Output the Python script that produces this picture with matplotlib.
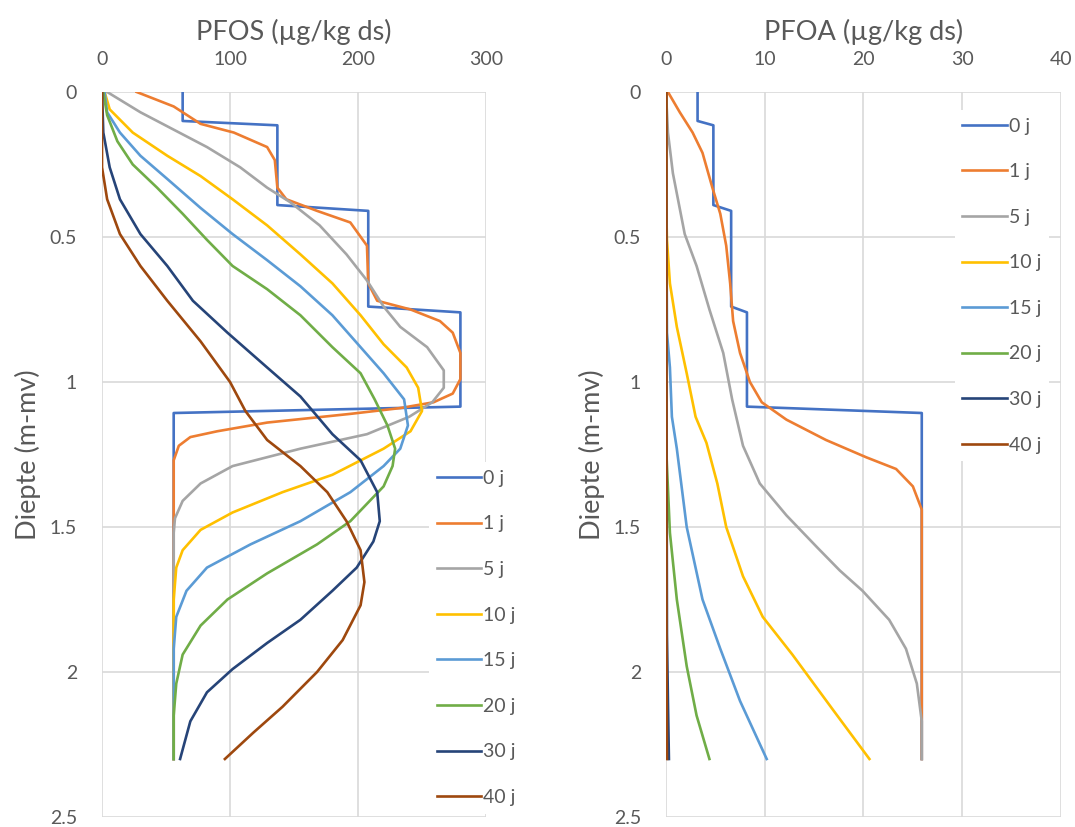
import matplotlib
matplotlib.use("Agg")
import matplotlib.pyplot as plt

plt.rcParams['font.family'] = ['Lato', 'DejaVu Sans']

labels = ['0 j', '1 j', '5 j', '10 j', '15 j', '20 j', '30 j', '40 j']
colors = ['#4472C4', '#ED7D31', '#A5A5A5', '#FFC000', '#5B9BD5', '#70AD47', '#264478', '#9E480E']

# ---- PFOS (ug/kg ds) ----
pfos_d_0 = [0, 0.10, 0.115, 0.39, 0.41, 0.74, 0.76, 1.085, 1.107, 2.3]
pfos_v_0 = [63, 63, 137, 137, 208, 208, 280, 280, 56, 56]

pfos_d_1 = [0, 0.05, 0.11, 0.14, 0.19, 0.235, 0.33, 0.37, 0.41, 0.45, 0.53, 0.66, 0.72, 0.75, 0.79, 0.83,
            0.9, 0.99, 1.04, 1.07, 1.09, 1.11, 1.14, 1.17, 1.19, 1.22, 1.27, 2.3]
pfos_v_1 = [27, 56, 77, 103, 129, 135, 137, 144, 168, 194, 207, 208, 215, 241, 264, 274,
            280, 280, 274, 259, 233, 194, 129, 90, 69, 60, 56, 56]

pfos_d_5 = [0, 0.07, 0.13, 0.19, 0.26, 0.33, 0.38, 0.46, 0.56, 0.65, 0.74, 0.81, 0.88, 0.96, 1.02, 1.07,
            1.12, 1.18, 1.23, 1.29, 1.35, 1.41, 1.47, 1.52, 2.3]
pfos_v_5 = [4, 30, 56, 82, 108, 129, 147, 170, 191, 207, 220, 233, 254, 267, 267, 258,
            240, 207, 155, 102, 77, 63, 57, 56, 56]

pfos_d_10 = [0, 0.06, 0.14, 0.22, 0.29, 0.37, 0.46, 0.56, 0.66, 0.77, 0.87, 0.95, 1.02, 1.10, 1.17, 1.23,
             1.32, 1.38, 1.45, 1.51, 1.58, 1.64, 1.75, 2.3]
pfos_v_10 = [2, 6, 24, 51, 77, 102, 129, 155, 180, 202, 220, 238, 247, 250, 241, 220,
             180, 141, 102, 77, 63, 58, 56, 56]

pfos_d_15 = [0, 0.07, 0.14, 0.22, 0.30, 0.40, 0.49, 0.58, 0.67, 0.77, 0.88, 0.97, 1.06, 1.15, 1.23, 1.29,
             1.38, 1.48, 1.56, 1.64, 1.72, 1.81, 1.92, 2.3]
pfos_v_15 = [2, 4, 14, 30, 51, 77, 102, 129, 155, 180, 202, 220, 236, 239, 233, 220,
             194, 155, 116, 82, 66, 58, 56, 56]

pfos_d_20 = [0, 0.08, 0.17, 0.25, 0.33, 0.42, 0.51, 0.60, 0.68, 0.77, 0.88, 0.97, 1.06, 1.15, 1.23, 1.29,
             1.36, 1.48, 1.56, 1.66, 1.75, 1.84, 1.94, 2.04, 2.15, 2.3]
pfos_v_20 = [1, 4, 12, 24, 43, 63, 82, 102, 129, 155, 180, 202, 213, 223, 229, 227,
             220, 194, 168, 129, 98, 77, 63, 58, 56, 56]

pfos_d_30 = [0, 0.14, 0.26, 0.37, 0.49, 0.60, 0.72, 0.83, 0.95, 1.05, 1.18, 1.27, 1.38, 1.48, 1.55, 1.64,
             1.72, 1.82, 1.90, 1.99, 2.07, 2.17, 2.3]
pfos_v_30 = [0, 1, 6, 14, 30, 51, 71, 98, 129, 155, 180, 202, 215, 217, 212, 199,
             180, 155, 129, 102, 82, 69, 61]

pfos_d_40 = [0, 0.26, 0.37, 0.49, 0.60, 0.72, 0.86, 1.0, 1.10, 1.20, 1.29, 1.38, 1.48, 1.58, 1.69, 1.77,
             1.89, 2.0, 2.12, 2.21, 2.3]
pfos_v_40 = [0, 0, 4, 14, 30, 51, 77, 100, 112, 129, 155, 176, 191, 202, 205, 202,
             188, 168, 141, 118, 96]

# ---- PFOA (ug/kg ds) ----
pfoa_d_0 = [0, 0.10, 0.115, 0.39, 0.41, 0.74, 0.76, 1.085, 1.107, 2.3]
pfoa_v_0 = [3.2, 3.2, 4.8, 4.8, 6.6, 6.6, 8.2, 8.2, 25.9, 25.9]

pfoa_d_1 = [0, 0.07, 0.14, 0.21, 0.33, 0.42, 0.53, 0.66, 0.79, 0.9, 1.0, 1.07, 1.13, 1.2, 1.26, 1.30,
            1.36, 1.44, 2.3]
pfoa_v_1 = [0.2, 1.4, 2.7, 3.7, 4.7, 5.5, 6.1, 6.5, 6.8, 7.5, 8.5, 9.7, 12.2, 16.2, 20.3, 23.3,
            25.0, 25.9, 25.9]

pfoa_d_5 = [0, 0.14, 0.28, 0.49, 0.60, 0.75, 0.90, 1.06, 1.22, 1.35, 1.46, 1.57, 1.65, 1.72, 1.82, 1.92,
            2.04, 2.17, 2.3]
pfoa_v_5 = [0, 0.2, 0.7, 1.9, 3.1, 4.4, 5.8, 6.7, 7.8, 9.5, 12.2, 15.3, 17.6, 19.9, 22.6, 24.3,
            25.4, 25.9, 25.9]

pfoa_d_10 = [0, 0.35, 0.51, 0.66, 0.81, 0.97, 1.12, 1.21, 1.35, 1.5, 1.67, 1.81, 1.94, 2.13, 2.3]
pfoa_v_10 = [0, 0, 0.1, 0.4, 1.1, 2.1, 3.0, 4.1, 5.2, 6.1, 7.8, 9.8, 12.8, 16.9, 20.6]

pfoa_d_15 = [0, 0.83, 0.95, 1.12, 1.23, 1.5, 1.75, 1.92, 2.1, 2.3]
pfoa_v_15 = [0, 0.1, 0.4, 0.6, 1.1, 2.1, 3.7, 5.5, 7.5, 10.2]

pfoa_d_20 = [0, 1.2, 1.29, 1.52, 1.75, 1.98, 2.15, 2.3]
pfoa_v_20 = [0, 0, 0.1, 0.4, 1.1, 2.1, 3.1, 4.4]

pfoa_d_30 = [0, 1.87, 2.1, 2.3]
pfoa_v_30 = [0, 0.1, 0.2, 0.3]

pfoa_d_40 = [0, 1.9, 2.3]
pfoa_v_40 = [0.05, 0.05, 0.1]

pfos_series = [(pfos_v_0, pfos_d_0), (pfos_v_1, pfos_d_1), (pfos_v_5, pfos_d_5), (pfos_v_10, pfos_d_10),
               (pfos_v_15, pfos_d_15), (pfos_v_20, pfos_d_20), (pfos_v_30, pfos_d_30), (pfos_v_40, pfos_d_40)]
pfoa_series = [(pfoa_v_0, pfoa_d_0), (pfoa_v_1, pfoa_d_1), (pfoa_v_5, pfoa_d_5), (pfoa_v_10, pfoa_d_10),
               (pfoa_v_15, pfoa_d_15), (pfoa_v_20, pfoa_d_20), (pfoa_v_30, pfoa_d_30), (pfoa_v_40, pfoa_d_40)]

text_col = '#595959'
grid_col = '#d9d9d9'

fig = plt.figure(figsize=(10.75, 8.27), dpi=100)
ax1 = fig.add_axes([0.0949, 0.0121, 0.3572, 0.8767])
ax2 = fig.add_axes([0.6195, 0.0121, 0.3675, 0.8767])


def style(ax, series, xmax, xstep, title):
    for (v, d), lab, c in zip(series, labels, colors):
        ax.plot(v, d, color=c, lw=1.9, label=lab)
    ax.set_xlim(0, xmax)
    ax.set_ylim(2.5, 0)
    ax.set_xticks(range(0, xmax + 1, xstep))
    ax.set_yticks([0, 0.5, 1, 1.5, 2, 2.5])
    ax.set_yticklabels(['0', '0.5', '1', '1.5', '2', '2.5'])
    ax.xaxis.tick_top()
    ax.xaxis.set_label_position('top')
    ax.tick_params(length=0, labelsize=14, labelcolor=text_col)
    ax.tick_params(axis='x', pad=17)
    ax.tick_params(axis='y', pad=18)
    for s in ax.spines.values():
        s.set_visible(False)
    ax.grid(True, color=grid_col, lw=1.2)
    ax.set_axisbelow(True)
    ax.set_xlabel(title, fontsize=19.5, color=text_col, labelpad=8)
    ax.set_ylabel('Diepte (m-mv)', fontsize=19.5, color=text_col, labelpad=6)


style(ax1, pfos_series, 300, 100, 'PFOS (µg/kg ds)')
style(ax2, pfoa_series, 40, 10, 'PFOA (µg/kg ds)')

leg_kw = dict(frameon=True, facecolor='white', edgecolor='none', framealpha=1, fancybox=False,
              fontsize=14, handlelength=2.3, handletextpad=0.08, labelspacing=1.47,
              borderpad=0.4, labelcolor=text_col)
ax1.legend(loc='upper left', bbox_to_anchor=(0.39, 0.453), bbox_transform=fig.transFigure, **leg_kw)
ax2.legend(loc='upper left', bbox_to_anchor=(0.879, 0.879), bbox_transform=fig.transFigure, **leg_kw)

fig.savefig('out.png', dpi=100)
